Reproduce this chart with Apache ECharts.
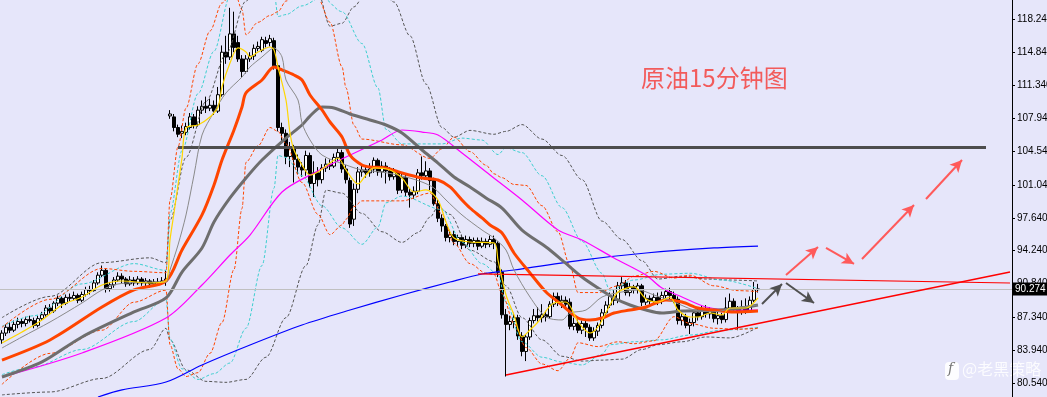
<!DOCTYPE html>
<html><head><meta charset="utf-8">
<script src="https://cdn.jsdelivr.net/npm/echarts@6/dist/echarts.min.js"></script>
<style>html,body{margin:0;padding:0;background:#E6E6FA;overflow:hidden}#c{width:1047px;height:397px}</style>
</head><body><div id="c"></div>
<script>
// ---- candle data (15 min bars) ----
const openP=[85.0,85.7,86.3,86.0,86.6,86.9,86.7,87.1,87.0,86.5,87.2,87.6,88.3,88.0,88.8,89.3,88.8,89.4,89.3,89.6,89.1,89.7,90.2,90.1,90.9,91.7,92.2,90.3,90.7,91.2,91.6,91.3,90.8,91.2,90.9,91.3,90.9,91.1,90.8,91.0,90.9,91.1,
108.2,108.1,107.0,106.4,106.5,107.0,108.1,107.3,108.8,109.2,
109.0,109.3,108.7,110.4,114.8,114.3,116.7,115.8,114.1,112.8,
114.1,114.4,115.2,115.0,116.0,115.8,116.0,113.4,107.0,106.4,
104.0,104.8,103.7,102.9,102.6,104.1,101.2,102.3,101.6,102.8,
103.2,103.0,103.9,104.4,102.7,101.5,97.5,100.6,102.4,102.6,
102.3,102.7,103.6,102.4,103.0,102.5,101.9,102.4,100.5,101.8,
100.3,100.0,100.4,102.3,102.0,102.5,101.5,99.1,97.6,96.8,
95.6,95.9,95.2,95.6,94.8,95.4,95.0,95.3,94.7,95.2,
94.9,95.4,95.0,92.0,87.6,86.6,86.9,87.3,85.4,83.8,
85.3,87.0,87.5,87.3,87.6,87.4,88.7,89.5,88.9,89.1,
88.9,86.4,86.7,86.0,86.7,86.3,85.2,85.9,86.5,87.8,
88.6,89.5,89.1,90.6,90.9,89.9,90.5,90.2,90.6,88.9,
89.3,89.0,89.4,89.0,89.6,90.0,89.6,89.2,87.0,87.4,
86.5,86.8,87.8,87.4,88.2,87.7,88.0,87.2,87.5,87.1,
88.3,89.0,88.2,88.0,88.4,88.0,89.1,90.2];
const closeP=[85.7,86.3,86.0,86.6,86.9,86.7,87.1,87.0,86.5,87.2,87.6,88.3,88.0,88.8,89.3,88.8,89.4,89.3,89.6,89.1,89.7,90.2,90.1,90.9,91.7,92.2,90.3,90.7,91.2,91.6,91.3,90.8,91.2,90.9,91.3,90.9,91.1,90.8,91.0,90.9,91.1,91.3,
108.4,107.0,106.3,106.6,107.1,108.1,107.2,108.8,109.2,109.0,
109.3,108.7,110.4,114.8,114.3,116.7,115.3,114.1,112.8,114.1,
114.4,115.2,115.4,116.1,115.7,116.2,113.4,107.0,106.4,104.0,
104.8,103.7,102.9,102.6,104.1,101.2,102.3,101.6,102.8,103.2,
103.0,103.9,104.4,102.7,101.6,97.0,100.6,102.4,102.6,102.3,
102.7,103.6,102.4,103.0,102.5,101.9,102.4,100.5,101.8,100.3,
100.0,100.4,102.3,102.0,102.5,101.5,99.1,97.6,96.8,95.6,
95.9,95.2,95.6,94.8,95.4,95.0,95.3,94.7,95.2,94.9,
95.4,95.0,92.0,87.6,86.6,86.9,87.3,85.4,83.8,85.3,
87.0,87.5,87.3,87.6,87.4,88.7,89.5,88.9,89.1,88.7,
86.4,86.7,86.0,86.7,86.3,85.2,85.9,86.5,87.8,88.6,
89.5,89.1,90.6,90.9,89.9,90.5,90.2,90.6,88.9,89.3,
89.0,89.4,89.0,89.6,90.0,89.6,89.2,87.0,87.4,86.5,
86.8,87.8,87.4,88.2,87.7,88.0,87.2,87.5,87.1,88.3,
89.0,88.2,88.0,88.4,88.0,89.1,90.2,90.274];
const lowP=[84.6,85.4,85.7,85.8,86.2,86.3,86.4,86.8,86.2,86.3,87.0,87.4,87.7,87.8,88.5,88.3,88.6,89.0,89.1,88.8,88.9,89.5,89.7,90.0,90.7,91.5,89.9,90.0,90.4,91.0,90.8,90.5,90.6,90.6,90.7,90.6,90.5,90.4,90.5,90.6,90.7,90.6,
107.9,106.6,106.0,105.9,106.2,106.8,106.9,107.1,108.4,108.5,
108.7,108.3,108.5,110.2,113.6,114.0,114.8,113.8,112.2,112.6,
113.8,114.0,114.9,114.8,115.3,115.4,113.0,106.6,105.5,103.2,
102.9,101.3,102.2,101.9,102.0,100.8,99.8,100.9,101.2,102.4,
102.6,102.8,103.5,102.3,101.2,96.6,96.8,100.2,101.9,101.8,
101.9,102.3,102.0,101.8,101.2,101.5,101.6,100.1,100.2,99.9,
98.7,99.6,100.1,101.6,101.7,100.5,98.9,97.2,96.2,95.2,
95.1,94.8,94.7,94.4,94.5,94.6,94.6,94.3,94.5,94.5,
94.6,94.4,91.5,87.2,81.2,86.0,86.2,85.0,83.3,82.8,
85.0,86.7,86.9,86.8,86.9,87.2,88.4,88.5,88.3,88.3,
86.1,86.0,85.7,85.6,85.3,84.9,84.9,85.4,86.2,87.5,
88.3,88.6,88.8,90.2,89.6,89.5,89.8,89.8,88.5,88.6,
88.6,88.8,88.6,88.7,89.3,89.2,88.8,86.6,86.5,86.2,
85.6,86.4,87.0,87.1,87.3,87.2,86.8,86.6,86.7,86.8,
87.9,87.8,86.0,87.6,87.7,87.8,88.9,89.9];
const highP=[86.0,86.6,86.8,87.0,87.3,87.2,87.4,87.5,87.3,87.5,87.9,88.6,88.7,89.0,89.6,89.5,89.7,89.8,90.0,89.8,90.0,90.5,90.6,91.2,92.0,92.7,92.4,91.0,91.5,92.0,91.9,91.5,91.6,91.5,91.6,91.5,91.4,91.3,91.3,91.4,91.5,92.2,
108.8,108.4,107.3,107.2,107.5,108.5,108.4,109.2,109.8,110.2,
110.0,109.8,111.2,115.5,116.5,119.4,119.0,116.5,114.5,114.5,
114.8,115.6,115.9,116.4,116.4,116.6,116.3,113.6,107.5,106.8,
105.5,105.2,104.2,103.4,104.6,104.4,103.5,102.9,103.2,103.8,
103.7,104.3,104.9,104.7,103.1,101.8,101.2,102.9,103.2,103.0,
103.3,103.9,103.8,103.5,103.4,102.9,102.8,102.6,102.3,102.2,
100.7,100.9,102.7,104.0,103.5,102.8,101.8,99.5,98.0,97.0,
96.4,96.3,95.9,95.9,95.8,95.7,95.6,95.6,95.6,95.5,
95.8,95.8,95.2,92.3,88.2,87.5,87.8,87.6,85.8,85.6,
87.3,88.2,88.4,88.7,88.0,89.0,89.9,89.9,89.6,89.5,
89.3,87.3,87.1,87.0,87.0,86.6,86.3,86.8,88.2,89.0,
89.9,90.2,91.0,91.5,91.2,90.9,90.7,90.9,90.8,89.7,
89.6,89.8,89.9,90.0,90.3,90.4,90.0,89.5,87.8,87.7,
87.2,88.1,88.3,88.6,88.6,88.4,88.3,87.9,87.8,89.4,
89.8,89.3,88.5,89.1,89.3,89.5,91.0,90.8];

// ---- moving averages: [bar index, price] ----
const maYellow=[[0,84.68],[5,85.81],[10,87.06],[15,88.61],[20,89.44],[25,90.68],[30,91.10],[37,90.89],[41,91.10],[42,95.35],[43,98.14],[44,101.04],[45,103.84],[46,106.95],[49,107.26],[52,108.09],[54,109.12],[55,111.20],[57,113.68],[59,115.24],[61,114.82],[62,114.31],[64,114.82],[67,115.34],[68,115.03],[69,113.27],[71,109.85],[72,106.43],[73,104.67],[75,103.12],[77,102.08],[79,102.39],[82,103.32],[84,103.84],[86,102.60],[89,101.15],[91,102.08],[93,102.81],[97,102.60],[100,101.77],[103,100.32],[106,100.53],[109,99.49],[111,97.21],[113,95.55],[117,95.14],[123,95.04],[124,93.27],[126,89.65],[128,87.58],[130,85.30],[132,86.02],[134,86.85],[138,88.82],[141,88.92],[144,86.85],[147,85.71],[149,86.33],[152,88.61],[154,89.96],[158,90.48],[161,89.24],[164,88.92],[167,89.44],[169,88.09],[172,87.37],[174,87.37],[177,87.78],[180,87.58],[182,88.30],[186,88.30],[189,89.34]];
const maGrayThin=[[0,84.16],[5,85.30],[12,86.85],[20,88.82],[25,90.17],[29,90.79],[37,90.99],[41,90.99],[42,92.24],[44,94.83],[46,97.94],[48,102.08],[50,106.22],[53,108.61],[56,110.58],[60,112.23],[62,113.27],[65,114.31],[67,115.03],[68,115.24],[70,114.31],[71,111.92],[74,109.85],[75,107.47],[77,105.71],[80,104.15],[86,103.12],[90,102.60],[95,102.39],[101,101.87],[105,101.35],[108,100.73],[111,99.49],[115,97.94],[120,96.38],[123,95.55],[126,94.31],[128,92.24],[132,89.44],[136,87.37],[140,87.06],[142,87.78],[146,88.09],[150,89.44],[155,89.96],[159,90.17],[163,89.65],[168,88.92],[173,88.09],[178,87.89],[183,88.30],[189,88.61]];
const maOrange=[[0,82.91],[12,84.99],[25,88.40],[33,90.17],[41,91.10],[45,94.31],[50,97.94],[53,101.04],[55,103.63],[58,106.74],[60,109.12],[61,110.58],[65,111.92],[68,113.27],[70,112.96],[73,112.44],[75,111.92],[77,110.37],[80,108.82],[82,107.57],[85,106.02],[87,104.15],[90,103.12],[92,102.91],[96,102.81],[100,102.29],[105,101.77],[109,101.56],[112,100.84],[115,99.49],[117,98.66],[120,97.63],[122,96.90],[125,96.07],[128,94.00],[132,91.93],[136,89.96],[140,88.61],[144,87.26],[147,87.06],[150,87.26],[153,87.78],[157,88.09],[161,88.40],[166,89.13],[170,88.92],[174,88.30],[178,88.09],[183,87.89],[189,87.99]];
const maDarkGray=[[0,81.15],[10,82.71],[20,85.30],[33,87.89],[41,89.34],[45,92.03],[50,94.52],[53,97.21],[57,99.70],[61,101.77],[65,103.63],[71,105.91],[75,107.26],[77,108.19],[80,109.12],[83,109.02],[87,108.40],[92,107.78],[96,107.26],[100,106.43],[105,104.67],[109,103.32],[113,101.87],[117,100.84],[121,99.70],[125,98.66],[130,96.38],[136,94.62],[140,93.27],[145,91.51],[149,90.37],[153,89.34],[157,88.61],[161,88.09],[165,87.78],[170,87.99],[178,88.09],[183,88.20],[189,88.61]];
const maMagenta=[[0,81.15],[20,83.64],[41,87.26],[50,90.68],[57,93.79],[62,95.86],[70,100.32],[78,102.29],[86,103.94],[95,105.71],[100,106.74],[105,106.53],[109,106.22],[115,104.36],[122,102.08],[130,99.49],[139,96.38],[145,95.35],[153,93.48],[161,91.72],[165,90.37],[170,89.44],[176,88.40],[183,88.09],[189,88.09]];
const maBlue=[[24,79.08],[30,79.81],[41,80.63],[50,82.40],[62,84.47],[75,86.54],[87,88.09],[100,89.65],[112,90.99],[120,91.82],[128,92.24],[145,93.27],[161,94.00],[178,94.52],[189,94.72]];

// ---- envelope bands (dashed): [bar index, price] ----
const bandOrangeUp=[[0,86.3],[12,89.2],[25,92.4],[33,92.1],[41,91.95],[42,99.5],[44,105.0],[46,109.0],[49,113.6],[52,117.0],[55,119.9],[58,121.3],[60,119.2],[61,116.6],[64,117.9],[67,118.6],[69,119.0],[71,120.1],[75,121.3],[79,120.4],[82,117.9],[85,113.3],[86,111.1],[88,107.2],[90,105.8],[100,105.2],[107,103.8],[110,104.8],[113,106.0],[117,104.5],[121,103.1],[123,102.2],[125,101.8],[128,101.1],[131,101.0],[135,98.9],[139,96.2],[142,92.7],[144,89.9],[149,89.9],[154,90.6],[158,91.6],[163,92.1],[168,91.4],[172,91.7],[178,90.6],[184,90.1],[189,90.0]];
const bandOrangeLow=[[0,80.4],[12,83.6],[25,86.0],[33,88.9],[41,90.15],[42,84.5],[44,82.0],[46,81.2],[49,81.6],[52,83.6],[55,86.8],[58,92.3],[60,98.6],[61,103.4],[64,105.1],[67,107.0],[69,106.6],[71,105.3],[75,101.3],[79,98.0],[82,95.9],[85,96.9],[86,97.5],[88,98.8],[90,99.4],[100,99.4],[107,100.2],[110,98.0],[113,95.0],[117,92.9],[121,91.9],[123,91.8],[125,89.8],[128,86.7],[131,84.2],[135,82.5],[139,81.8],[142,83.1],[144,84.7],[149,84.3],[154,84.8],[158,84.6],[163,84.9],[168,87.4],[172,86.7],[178,86.2],[184,86.1],[189,86.2]];
const bandCyanUp=[[0,86.4],[8,87.5],[20,90.8],[33,92.9],[41,92.2],[42,98.1],[45,104.6],[49,110.5],[53,114.9],[57,120.6],[61,123.0],[65,123.5],[68,121.1],[69,118.5],[71,118.7],[75,119.6],[80,120.5],[85,119.0],[90,115.7],[94,111.1],[96,106.8],[100,105.3],[110,105.3],[115,105.9],[120,105.7],[124,104.2],[126,104.9],[130,104.4],[135,102.0],[140,98.7],[145,95.2],[150,91.9],[152,90.1],[158,91.2],[165,91.8],[172,91.9],[180,91.2],[189,90.3]];
const bandCyanLow=[[0,81.4],[8,82.2],[20,84.0],[33,86.9],[41,89.2],[42,85.1],[45,82.0],[49,80.9],[53,81.5],[57,82.6],[61,86.2],[65,92.7],[68,100.7],[69,104.1],[71,103.9],[75,102.0],[80,98.9],[85,96.6],[90,94.9],[94,96.7],[96,99.2],[100,99.9],[110,98.5],[115,95.1],[120,92.9],[124,91.8],[126,88.9],[130,84.8],[135,83.2],[140,82.7],[145,82.4],[150,83.5],[152,84.5],[158,84.8],[165,85.0],[172,85.5],[180,86.0],[189,86.3]];
const bandGrayUp=[[0,87.3],[12,89.5],[25,93.0],[37,93.5],[41,93.0],[42,97.4],[46,103.9],[51,109.7],[56,114.6],[61,120.1],[66,123.6],[71,125.0],[76,123.3],[79,121.0],[82,117.5],[85,117.8],[88,119.5],[91,121.0],[95,121.0],[98,120.0],[102,116.5],[106,111.5],[110,107.0],[113,106.0],[117,106.7],[123,106.3],[126,106.6],[130,107.3],[135,105.8],[140,104.1],[145,101.6],[150,97.3],[155,95.4],[160,93.2],[164,91.3],[170,91.6],[176,91.3],[182,91.2],[189,91.1]];
const bandGrayLow=[[0,79.3],[12,79.6],[25,81.0],[37,84.0],[41,86.2],[42,85.0],[46,81.9],[51,80.7],[56,80.6],[61,80.9],[66,83.2],[71,87.3],[76,92.7],[79,96.9],[81,100.5],[85,100.2],[90,98.1],[95,96.2],[100,95.1],[104,96.1],[107,97.7],[109,98.8],[112,98.0],[117,94.3],[123,93.1],[126,90.6],[130,87.3],[135,85.0],[140,83.3],[145,82.8],[150,82.9],[155,83.0],[160,84.0],[164,84.5],[170,84.8],[176,85.3],[182,85.2],[189,86.3]];

// ---- axis ticks / levels / drawn objects ----
const yTicks=[80.54,83.94,87.34,90.84,94.24,97.64,101.04,104.54,107.94,111.34,114.84,118.24];
const lastPrice=90.274;
const resistance={from:44,to:246,price:104.98};
const redFlat=[[119,91.83],[252,90.89]];
const redTrend=[[126,81.36],[252,92.03]];
const grayArrows=[[[190,88.72],[195,90.79]],[[196,90.89],[203,88.82]]];
const pinkArrows=[[[196,91.72],[204,94.62]],[[206,94.52],[213,92.86]],[[215,93.38],[228,98.97]],[[231,99.59],[240,103.63]]];

const N=253;
const categories=Array.from({length:N},(_,i)=>String(i));
const candles=openP.map((o,i)=>[o,closeP[i],lowP[i],highP[i]]);

function ln(name,data,color,width,z){
  return {name,type:'line',data,symbol:'none',silent:true,z:z||3,smooth:0.3,
    lineStyle:{color,width},itemStyle:{color},animation:false};
}
function band(name,data,color){
  return {name,type:'line',data,symbol:'none',silent:true,z:3,smooth:0.3,smoothMonotone:'x',
    lineStyle:{color,width:1,type:[3,2]},itemStyle:{color},animation:false};
}
const chart=echarts.init(document.getElementById('c'),null,{renderer:'canvas'});
chart.setOption({
  animation:false,
  backgroundColor:'#E6E6FA',
  grid:{left:0,right:35,top:0,bottom:0,containLabel:false,outerBoundsMode:'none'},
  xAxis:{type:'category',data:categories,boundaryGap:true,show:false},
  yAxis:{type:'value',position:'right',min:79.08,max:120.21,
    splitLine:{show:false},
    axisLine:{show:true,onZero:false,lineStyle:{color:'#000',width:1}},
    axisTick:{show:true,customValues:yTicks,length:3,lineStyle:{color:'#000'}},
    axisLabel:{customValues:yTicks,formatter:v=>v.toFixed(3),color:'#000',fontSize:10,fontFamily:'Liberation Sans',margin:5}},
  graphic:[
    {type:'text',left:641,top:66,style:{text:'原油15分钟图',fill:'#F25B5B',font:'24px "Noto Sans CJK SC"'}},
    {type:'rect',left:945,top:362,shape:{width:14,height:18,r:4},style:{fill:'rgba(255,255,255,0.9)'}},
    {type:'text',left:948,top:362,style:{text:'f',fill:'#777',font:'italic 14px "DejaVu Serif"'}},
    {type:'text',left:962,top:361,style:{text:'@老黑策略',fill:'rgba(255,255,255,0.85)',font:'16px "Noto Sans CJK SC"'}}
  ],
  series:[
    {type:'candlestick',data:candles,barWidth:3,z:2,
      itemStyle:{color:'#ffffff',color0:'#000000',borderColor:'#000000',borderColor0:'#000000',borderWidth:1},
      markLine:{silent:true,symbol:'none',animation:false,
        data:[{yAxis:lastPrice}],
        lineStyle:{color:'#C0C0C0',width:1,type:'solid'},
        label:{position:'end',formatter:'90.274',backgroundColor:'#000',color:'#fff',fontSize:10,fontFamily:'Liberation Sans',padding:[2,2,1,2],distance:1}}},
    band('bgU',bandGrayUp,'#555555'),
    band('bgL',bandGrayLow,'#555555'),
    band('bcU',bandCyanUp,'#3CCFCF'),
    band('bcL',bandCyanLow,'#3CCFCF'),
    band('boU',bandOrangeUp,'#FF4500'),
    band('boL',bandOrangeLow,'#FF4500'),
    ln('blue',maBlue,'#0000FF',1.2,4),
    ln('magenta',maMagenta,'#FF00FF',1.2,4),
    ln('darkgray',maDarkGray,'#6E6E6E',3,4),
    ln('orange',maOrange,'#FF4500',3,4),
    ln('graythin',maGrayThin,'#8A8A8A',1,5),
    ln('yellow',maYellow,'#FFD700',1.2,5),
    {type:'line',data:[],z:6,markLine:{silent:true,animation:false,symbol:'none',
      data:[
        [{coord:[resistance.from,resistance.price],lineStyle:{color:'#4D4D4D',width:3}},{coord:[resistance.to,resistance.price]}],
        [{coord:redFlat[0],lineStyle:{color:'#FF0000',width:1.2}},{coord:redFlat[1]}],
        [{coord:redTrend[0],lineStyle:{color:'#FF0000',width:1.5}},{coord:redTrend[1]}]
      ],label:{show:false},lineStyle:{type:'solid'}}},
    {type:'line',data:[],z:7,markLine:{silent:true,animation:false,symbol:['none','arrow'],symbolSize:[9,12],
      data:grayArrows.map(a=>[{coord:a[0],lineStyle:{color:'#505050',width:2}},{coord:a[1]}])
        .concat(pinkArrows.map(a=>[{coord:a[0],lineStyle:{color:'#FF5A5A',width:2}},{coord:a[1]}])),
      label:{show:false},lineStyle:{type:'solid'}}}
  ]
});
</script></body></html>
